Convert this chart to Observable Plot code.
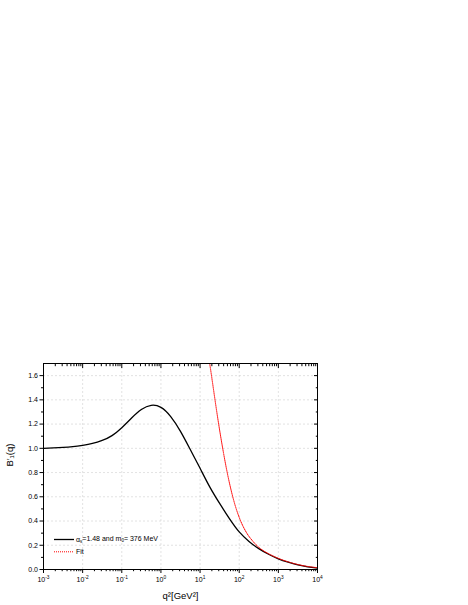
<!DOCTYPE html>
<html>
<head>
<meta charset="utf-8">
<script src="https://cdn.jsdelivr.net/npm/d3@7"></script>
<script src="https://cdn.jsdelivr.net/npm/@observablehq/plot@0.6"></script>
<style>
  html, body { margin: 0; padding: 0; background: #fff; }
  #chart svg { display: block; font-family: "Liberation Sans", Arial, sans-serif; }
</style>
</head>
<body>
<div id="chart"></div>
<script>
// ---- data ----
const modelQ2 = [0.001, 0.00178, 0.00316, 0.00562, 0.01, 0.0178, 0.0316, 0.0562, 0.1, 0.178, 0.316, 0.562, 1, 1.78, 3.16, 5.62, 10, 17.8, 31.6, 56.2, 100, 178, 316, 562, 1000, 1778, 3162, 5623, 10000];
const modelB  = [1.000, 1.003, 1.007, 1.014, 1.025, 1.04, 1.065, 1.105, 1.17, 1.25, 1.32, 1.355, 1.338, 1.262, 1.14, 0.99, 0.835, 0.68, 0.545, 0.42, 0.31, 0.232, 0.172, 0.126, 0.088, 0.06, 0.038, 0.022, 0.012];
const fitQ2 = [15.8, 17.6, 20.0, 25.1, 31.6, 39.8, 50.1, 63.1, 79.4, 100, 125.9, 158.5, 199.5, 316, 562, 1000, 1778, 3162, 5623, 10000];
const fitB  = [1.80, 1.70, 1.58, 1.36, 1.15, 0.96, 0.79, 0.645, 0.525, 0.43, 0.355, 0.297, 0.252, 0.183, 0.13, 0.092, 0.063, 0.041, 0.025, 0.015];
const xMajor = [1e-3, 1e-2, 1e-1, 1e0, 1e1, 1e2, 1e3, 1e4];
const xMinor = [];
for (let e = -3; e < 4; e++) for (let m = 2; m <= 9; m++) xMinor.push(+(m * Math.pow(10, e)).toPrecision(3));
const yMajor = [0.0, 0.2, 0.4, 0.6, 0.8, 1.0, 1.2, 1.4, 1.6];
const yMinor = [0.1, 0.3, 0.5, 0.7, 0.9, 1.1, 1.3, 1.5];
const legendLabels = ["model", "Fit"];
const xLabel = "q²[GeV²]";
const yLabel = "B′₁(q)";

const model = modelQ2.map((q, i) => ({q, b: modelB[i]}));
const fit = fitQ2.map((q, i) => ({q, b: fitB[i]}));

const sup = {"-": "⁻", "0": "⁰", "1": "¹", "2": "²", "3": "³", "4": "⁴", "5": "⁵", "6": "⁶", "7": "⁷", "8": "⁸", "9": "⁹"};
const unsup = Object.fromEntries(Object.entries(sup).map(([k, v]) => [v, k]));
const fmtPow = d => "10" + String(Math.round(Math.log10(d))).split("").map(c => sup[c]).join("");
const blank = () => "";

const gridStyle = {stroke: "#cfcfcf", strokeOpacity: 1, strokeWidth: 0.6, strokeDasharray: "2,2"};

const plot = Plot.plot({
  width: 468,
  height: 605,
  marginLeft: 43,
  marginRight: 151,
  marginTop: 363,
  marginBottom: 36,
  style: {fontFamily: '"Liberation Sans", Arial, sans-serif', background: "#fff", color: "#000"},
  x: {type: "log", domain: [1e-3, 1e4]},
  y: {domain: [0, 1.7]},
  marks: [
    Plot.gridX(xMajor, gridStyle),
    Plot.gridY(yMajor, gridStyle),
    Plot.line(model, {x: "q", y: "b", stroke: "#000", strokeWidth: 1.3, curve: "natural"}),
    Plot.line(fit, {x: "q", y: "b", stroke: "#f00", strokeWidth: 1, strokeDasharray: "1,1", curve: "natural", clip: true}),
    Plot.frame({stroke: "#000", strokeWidth: 1}),
    Plot.axisX(xMajor, {anchor: "bottom", tickSize: 4, tickPadding: 4, tickFormat: fmtPow, fontSize: 7, label: null}),
    Plot.axisX(xMinor, {anchor: "bottom", tickSize: 2.2, tickFormat: blank, label: null}),
    Plot.axisX(xMajor, {anchor: "top", tickSize: -4, tickFormat: blank, label: null}),
    Plot.axisX(xMinor, {anchor: "top", tickSize: -2.2, tickFormat: blank, label: null}),
    Plot.axisY(yMajor, {anchor: "left", tickSize: 3.5, tickPadding: 2, tickFormat: d3.format(".1f"), fontSize: 7, label: null}),
    Plot.axisY(yMinor, {anchor: "left", tickSize: 2, tickFormat: blank, label: null}),
    Plot.axisY(yMajor, {anchor: "right", tickSize: -4, tickFormat: blank, label: null}),
    Plot.axisY(yMinor, {anchor: "right", tickSize: -2.2, tickFormat: blank, label: null}),
    Plot.text([xLabel], {frameAnchor: "bottom", dy: 29, fontSize: 9.5, fill: "#000"}),
    Plot.text([yLabel], {frameAnchor: "left", dx: -34, rotate: -90, fontSize: 9.5, fill: "#000"})
  ]
});

const svg = d3.select(plot);

// render powers of ten with a real superscript
svg.selectAll("text").each(function () {
  const s = this.textContent;
  if (/^10[⁻⁰¹²³⁴⁵⁶⁷⁸⁹]+$/.test(s)) {
    const exp = s.slice(2).split("").map(c => unsup[c]).join("");
    const t = d3.select(this);
    t.text(null);
    t.append("tspan").text("10");
    t.append("tspan").attr("font-size", 4.8).attr("dy", "-0.75em").text(exp);
  }
});

// legend inside the frame (lower-left)
const g = svg.append("g").attr("font-size", 7).attr("text-anchor", "start").attr("fill", "#000")
  .attr("font-family", '"Liberation Sans", Arial, sans-serif');
const lx = 54, ly = 539.5;
g.append("line").attr("x1", lx).attr("x2", lx + 20).attr("y1", ly).attr("y2", ly).attr("stroke", "#000").attr("stroke-width", 1.3);
const t1 = g.append("text").attr("x", lx + 22).attr("y", ly).attr("dy", "0.35em");
t1.append("tspan").text("α");
t1.append("tspan").attr("font-size", 4.5).attr("dy", "0.25em").text("s");
t1.append("tspan").attr("dy", "-0.25em").text("=1.48 and m");
t1.append("tspan").attr("font-size", 4.5).attr("dy", "0.25em").text("0");
t1.append("tspan").attr("dy", "-0.25em").text("= 376 MeV");
g.append("line").attr("x1", lx).attr("x2", lx + 20).attr("y1", ly + 12.3).attr("y2", ly + 12.3).attr("stroke", "#f00").attr("stroke-width", 1).attr("stroke-dasharray", "1,1");
g.append("text").attr("x", lx + 22).attr("y", ly + 12.3).attr("dy", "0.35em").text(legendLabels[1]);

document.getElementById("chart").appendChild(plot);
</script>
</body>
</html>
